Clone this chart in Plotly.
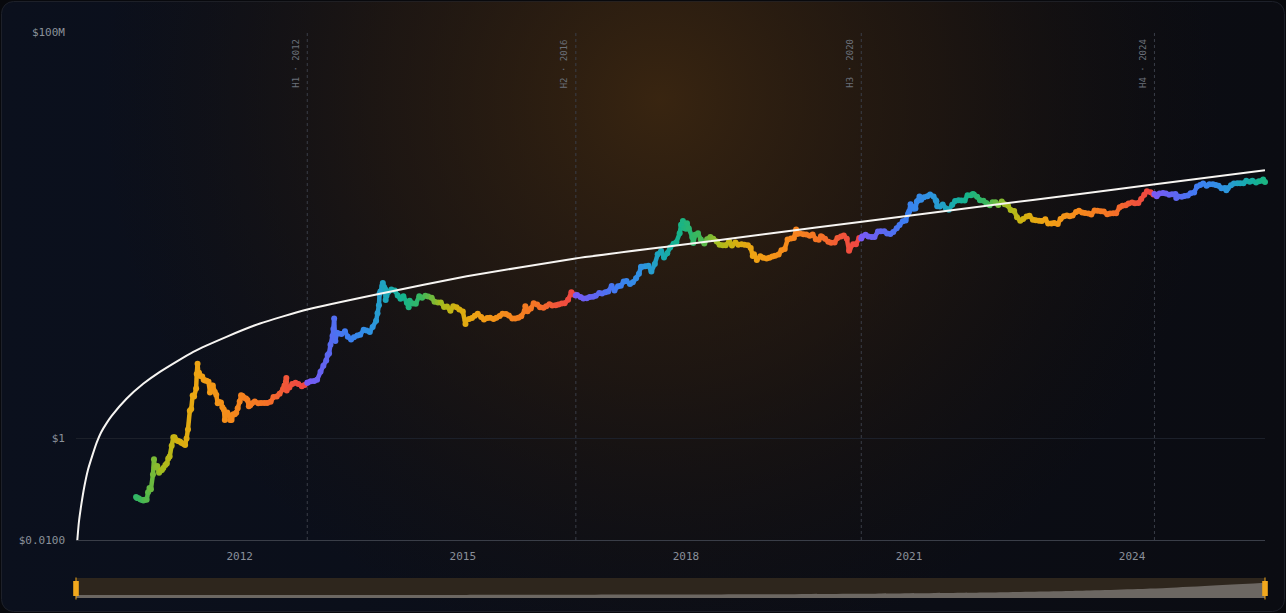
import base64
import numpy as np
import pandas as pd
import plotly.graph_objects as go
from plotly.colors import sample_colorscale

# ---------------- data ----------------
price_dates = [
    "2010-08-10", "2010-08-15", "2010-08-22", "2010-09-01", "2010-09-10", "2010-09-15", "2010-09-22",
    "2010-10-01", "2010-10-08", "2010-10-15", "2010-10-22", "2010-11-01", "2010-11-06", "2010-11-10",
    "2010-11-15", "2010-11-22", "2010-12-01", "2010-12-08", "2010-12-15", "2010-12-22",
    "2011-01-01", "2011-01-08", "2011-01-15", "2011-01-22", "2011-02-01", "2011-02-09", "2011-02-15",
    "2011-02-22", "2011-03-01", "2011-03-08", "2011-03-15", "2011-03-22", "2011-04-01", "2011-04-08",
    "2011-04-15", "2011-04-22", "2011-05-01", "2011-05-08", "2011-05-15", "2011-05-22", "2011-06-01",
    "2011-06-04", "2011-06-08", "2011-06-12", "2011-06-15", "2011-06-22", "2011-07-01", "2011-07-08",
    "2011-07-15", "2011-07-22", "2011-08-01", "2011-08-08", "2011-08-15", "2011-08-22", "2011-09-01",
    "2011-09-08", "2011-09-15", "2011-09-22", "2011-10-01", "2011-10-08", "2011-10-15", "2011-10-20",
    "2011-10-22", "2011-11-01", "2011-11-08", "2011-11-15", "2011-11-22", "2011-12-01", "2011-12-08",
    "2011-12-15", "2011-12-22",
    "2012-01-01", "2012-01-08", "2012-01-15", "2012-01-22", "2012-02-01", "2012-02-08", "2012-02-15",
    "2012-02-22", "2012-03-01", "2012-03-15", "2012-04-01", "2012-04-15", "2012-05-01", "2012-05-15",
    "2012-06-01", "2012-06-15", "2012-07-01", "2012-07-15", "2012-08-01", "2012-08-08", "2012-08-15",
    "2012-08-17", "2012-08-19", "2012-08-22", "2012-09-01", "2012-09-15", "2012-10-01", "2012-10-15",
    "2012-11-01", "2012-11-15", "2012-11-28", "2012-12-01", "2012-12-15",
    "2013-01-01", "2013-01-15", "2013-02-01", "2013-02-15", "2013-03-01", "2013-03-08", "2013-03-15",
    "2013-03-22", "2013-04-01", "2013-04-05", "2013-04-09", "2013-04-12", "2013-04-15", "2013-04-22",
    "2013-05-01", "2013-05-15", "2013-06-01", "2013-06-15", "2013-07-01", "2013-07-15", "2013-08-01",
    "2013-08-15", "2013-09-01", "2013-09-15", "2013-10-01", "2013-10-15", "2013-11-01", "2013-11-08",
    "2013-11-15", "2013-11-18", "2013-11-22", "2013-12-01", "2013-12-04", "2013-12-10", "2013-12-15",
    "2013-12-18", "2013-12-22",
    "2014-01-01", "2014-01-15", "2014-02-01", "2014-02-15", "2014-03-01", "2014-03-15", "2014-04-01",
    "2014-04-10", "2014-04-15", "2014-05-01", "2014-05-15", "2014-06-01", "2014-06-15", "2014-07-01",
    "2014-07-15", "2014-08-01", "2014-08-15", "2014-09-01", "2014-09-15", "2014-10-01", "2014-10-15",
    "2014-11-01", "2014-11-15", "2014-12-01", "2014-12-15",
    "2015-01-01", "2015-01-14", "2015-01-15", "2015-02-01", "2015-02-15", "2015-03-01", "2015-03-15",
    "2015-04-01", "2015-04-15", "2015-05-01", "2015-05-15", "2015-06-01", "2015-06-15", "2015-07-01",
    "2015-07-15", "2015-08-01", "2015-08-15", "2015-09-01", "2015-09-15", "2015-10-01", "2015-10-15",
    "2015-11-01", "2015-11-04", "2015-11-15", "2015-12-01", "2015-12-15",
    "2016-01-01", "2016-01-15", "2016-02-01", "2016-02-15", "2016-03-01", "2016-03-15", "2016-04-01",
    "2016-04-15", "2016-05-01", "2016-05-15", "2016-06-01", "2016-06-17", "2016-07-01", "2016-07-09",
    "2016-07-15", "2016-08-01", "2016-08-15", "2016-09-01", "2016-09-15", "2016-10-01", "2016-10-15",
    "2016-11-01", "2016-11-15", "2016-12-01", "2016-12-15",
    "2017-01-01", "2017-01-15", "2017-02-01", "2017-02-15", "2017-03-01", "2017-03-15", "2017-04-01",
    "2017-04-15", "2017-05-01", "2017-05-15", "2017-05-25", "2017-06-01", "2017-06-15", "2017-07-01",
    "2017-07-15", "2017-08-01", "2017-08-15", "2017-09-01", "2017-09-15", "2017-10-01", "2017-10-15",
    "2017-11-01", "2017-11-15", "2017-12-01", "2017-12-08", "2017-12-17", "2017-12-22",
    "2018-01-01", "2018-01-06", "2018-01-15", "2018-02-01", "2018-02-06", "2018-02-15", "2018-03-01",
    "2018-03-15", "2018-04-01", "2018-04-15", "2018-05-01", "2018-05-15", "2018-06-01", "2018-06-15",
    "2018-07-01", "2018-07-15", "2018-08-01", "2018-08-15", "2018-09-01", "2018-09-15", "2018-10-01",
    "2018-10-15", "2018-11-01", "2018-11-15", "2018-11-25", "2018-12-01", "2018-12-15",
    "2019-01-01", "2019-01-15", "2019-02-01", "2019-02-15", "2019-03-01", "2019-03-15", "2019-04-01",
    "2019-04-15", "2019-05-01", "2019-05-15", "2019-06-01", "2019-06-15", "2019-06-26", "2019-07-01",
    "2019-07-15", "2019-08-01", "2019-08-15", "2019-09-01", "2019-09-15", "2019-10-01", "2019-10-15",
    "2019-10-26", "2019-11-01", "2019-11-15", "2019-12-01", "2019-12-15",
    "2020-01-01", "2020-01-15", "2020-02-01", "2020-02-15", "2020-03-01", "2020-03-12", "2020-03-15",
    "2020-04-01", "2020-04-15", "2020-05-01", "2020-05-11", "2020-05-15", "2020-06-01", "2020-06-15",
    "2020-07-01", "2020-07-15", "2020-08-01", "2020-08-15", "2020-09-01", "2020-09-15", "2020-10-01",
    "2020-10-15", "2020-11-01", "2020-11-15", "2020-12-01", "2020-12-15", "2020-12-27",
    "2021-01-01", "2021-01-08", "2021-01-15", "2021-01-22", "2021-02-01", "2021-02-08", "2021-02-15",
    "2021-02-21", "2021-03-01", "2021-03-15", "2021-04-01", "2021-04-14", "2021-05-01", "2021-05-12",
    "2021-05-15", "2021-05-19", "2021-06-01", "2021-06-15", "2021-07-01", "2021-07-15", "2021-08-01",
    "2021-08-15", "2021-09-01", "2021-09-15", "2021-10-01", "2021-10-15", "2021-11-01", "2021-11-10",
    "2021-11-15", "2021-12-01", "2021-12-15",
    "2022-01-01", "2022-01-15", "2022-02-01", "2022-02-15", "2022-03-01", "2022-03-15", "2022-04-01",
    "2022-04-15", "2022-05-01", "2022-05-15", "2022-06-01", "2022-06-15", "2022-07-01", "2022-07-15",
    "2022-08-01", "2022-08-15", "2022-09-01", "2022-09-15", "2022-10-01", "2022-10-15", "2022-11-01",
    "2022-11-15", "2022-12-01", "2022-12-15",
    "2023-01-01", "2023-01-15", "2023-02-01", "2023-02-15", "2023-03-01", "2023-03-15", "2023-04-01",
    "2023-04-15", "2023-05-01", "2023-05-15", "2023-06-01", "2023-06-15", "2023-07-01", "2023-07-15",
    "2023-08-01", "2023-08-15", "2023-09-01", "2023-09-15", "2023-10-01", "2023-10-15", "2023-11-01",
    "2023-11-15", "2023-12-01", "2023-12-15",
    "2024-01-01", "2024-01-15", "2024-02-01", "2024-02-15", "2024-03-01", "2024-03-14", "2024-04-01",
    "2024-04-15", "2024-04-20", "2024-05-01", "2024-05-15", "2024-06-01", "2024-06-15", "2024-07-01",
    "2024-07-15", "2024-08-01", "2024-08-05", "2024-08-15", "2024-09-01", "2024-09-15", "2024-10-01",
    "2024-10-15", "2024-11-01", "2024-11-15", "2024-12-01", "2024-12-15",
    "2025-01-01", "2025-01-15", "2025-02-01", "2025-02-15", "2025-03-01", "2025-03-15", "2025-04-01",
    "2025-04-08", "2025-04-15", "2025-05-01", "2025-05-15", "2025-06-01", "2025-06-15", "2025-07-01",
    "2025-07-15", "2025-08-01", "2025-08-14", "2025-09-01", "2025-09-15", "2025-10-01", "2025-10-06",
    "2025-10-15",
]
price_values = [
    0.070, 0.067, 0.066, 0.063, 0.061, 0.060, 0.062,
    0.062, 0.087, 0.105, 0.100, 0.195, 0.390, 0.270,
    0.270, 0.285, 0.210, 0.230, 0.240, 0.260,
    0.30, 0.32, 0.40, 0.44, 0.72, 1.05, 1.05,
    0.93, 0.90, 0.88, 0.86, 0.81, 0.78, 0.74,
    1.00, 1.50, 3.50, 3.80, 7.00, 6.70, 9.60,
    18.5, 29.6, 19.0, 19.5, 17.0, 16.5, 14.3,
    13.8, 13.6, 13.1, 8.0, 11.0, 11.0, 8.2,
    7.2, 4.9, 5.2, 5.1, 4.1, 3.7, 2.3,
    3.2, 3.25, 2.9, 2.3, 2.3, 3.0, 3.0,
    3.2, 3.9,
    5.3, 7.1, 6.8, 6.3, 6.1, 5.7, 4.3,
    4.5, 4.9, 5.3, 4.9, 4.95, 5.0, 5.0,
    5.25, 6.5, 6.7, 7.6, 9.4, 11.0, 13.2,
    15.4, 8.8, 10.2, 10.1, 11.8, 12.4, 11.8,
    10.6, 11.2, 12.4, 12.6, 13.4,
    13.5, 14.2, 20.4, 27.0, 34.0, 44.0, 47.0,
    70.0, 104, 142, 230, 117, 83, 120,
    116, 114, 129, 100, 88, 98, 106,
    110, 138, 133, 125, 156, 206, 290,
    420, 700, 780, 1000, 1150, 960, 870,
    530, 640,
    770, 850, 820, 650, 560, 630, 470,
    380, 510, 450, 445, 630, 590, 640,
    620, 590, 490, 475, 475, 385, 395,
    325, 400, 380, 345,
    315, 178, 210, 225, 235, 260, 285,
    245, 220, 235, 237, 223, 236, 258,
    285, 280, 262, 228, 230, 237, 255,
    325, 400, 320, 360, 455,
    434, 380, 372, 400, 435, 415, 417,
    430, 450, 455, 535, 750, 675, 650,
    665, 605, 570, 575, 610, 615, 640,
    730, 710, 755, 780,
    1000, 820, 985, 1010, 1220, 1250, 1090,
    1180, 1420, 1740, 2400, 2400, 2450, 2500,
    1920, 2720, 4200, 4900, 3640, 4400, 5700,
    6750, 7300, 10900, 16000, 19100, 13800,
    13400, 17100, 13600, 9100, 7000, 10200, 10900,
    8200, 6850, 8350, 9250, 8500, 7500, 6450,
    6350, 6350, 7600, 6300, 7200, 6500, 6600,
    6450, 6350, 5600, 3900, 4200, 3250,
    3850, 3580, 3480, 3610, 3820, 3930, 4150,
    5050, 5350, 8200, 8570, 8850, 12900, 10600,
    10850, 10400, 10300, 9750, 10300, 8300, 8150,
    9550, 9250, 8500, 7400, 7100,
    7200, 8800, 9400, 9900, 8550, 4970, 5400,
    6650, 6650, 8800, 8600, 9400, 10200, 9450,
    9230, 9200, 11800, 11900, 11950, 10800, 10600,
    11500, 13750, 15950, 18800, 19400, 26500,
    29400, 40800, 36800, 33000, 33500, 46200, 48700,
    57500, 49600, 55900, 58700, 63500, 57800, 49000,
    46800, 37000, 36700, 40200, 33500, 31800, 39900,
    47000, 48800, 48100, 48200, 61500, 61000, 65000,
    63600, 57200, 48900,
    47700, 43100, 38700, 44500, 44400, 39300, 46300,
    40500, 38500, 31300, 29800, 22600, 19300, 20800,
    23300, 24100, 20100, 19700, 19300, 19100, 20500,
    16900, 17000, 17400,
    16600, 20900, 23700, 24300, 23600, 24400, 28500,
    30300, 28000, 27200, 26800, 25600, 30600, 30300,
    29700, 29200, 25900, 26600, 27000, 27100, 35400,
    37900, 38700, 41900,
    44200, 42500, 43100, 51800, 62400, 73100, 69700,
    63400, 64900, 58300, 66200, 67800, 66200, 62700,
    64100, 65000, 54000, 57600, 57300, 59100, 60800,
    67000, 69500, 91000, 97200, 104000,
    94400, 100500, 100600, 97600, 94200, 84300, 85200,
    76300, 83600, 96500, 103700, 105600, 105500, 105700,
    117800, 113300, 118400, 109200, 115400, 118600, 124700,
    111000,
]

# white model curve
model_dates = [
    "2009-10-25", "2009-11-02", "2009-11-15", "2009-11-29", "2009-12-16", "2010-01-06",
    "2010-01-29", "2010-02-19", "2010-03-16", "2010-04-12", "2010-06-24", "2010-09-14",
    "2010-12-05", "2011-05-18", "2011-10-28", "2012-04-10", "2012-11-28", "2013-11-20",
    "2015-01-20", "2016-07-07", "2017-10-15", "2019-02-17", "2020-05-14", "2022-01-17",
    "2023-04-20", "2024-04-14", "2025-10-15",
]
model_values = [
    0.0095, 0.0221, 0.0524, 0.113, 0.234, 0.442,
    0.834, 1.31, 1.93, 2.77, 6.03, 11.86,
    20.4, 50.6, 100, 183, 345, 706,
    1549, 3490, 6040, 10800, 18370, 37800,
    64900, 99300, 189000,
]

halving_dates = ["2012-11-28", "2016-07-09", "2020-05-11", "2024-04-20"]
halving_labels = ["H1 · 2012", "H2 · 2016", "H3 · 2020", "H4 · 2024"]
genesis_date = "2009-01-03"
next_halving_est = "2028-04-15"

x_tick_dates = ["2012-01-01", "2015-01-01", "2018-01-01", "2021-01-01", "2024-01-01"]
x_tick_labels = ["2012", "2015", "2018", "2021", "2024"]
y_tick_values = [0.01, 1, 1e8]
y_tick_labels = ["$0.0100", "$1", "$100M"]
x_range = ["2009-10-19", "2025-10-15"]

# ---------------- derived: position within halving cycle ----------------
d = pd.to_datetime(price_dates).values
bounds = pd.to_datetime([genesis_date] + halving_dates + [next_halving_est]).values
idx = np.searchsorted(bounds, d, side="right") - 1
phase = np.asarray((d - bounds[idx]) / (bounds[idx + 1] - bounds[idx]), dtype=float)

cycle_scale = [
    [0.00, "#7a5af5"], [0.08, "#5b68f0"], [0.15, "#3d7ef2"], [0.24, "#2e95e0"],
    [0.30, "#1aa8b5"], [0.36, "#15b38c"], [0.43, "#3cb75a"], [0.50, "#a5bc1e"],
    [0.56, "#d6b010"], [0.63, "#f0a214"], [0.74, "#f68a1c"], [0.86, "#f57226"],
    [0.93, "#f1553a"], [1.00, "#ef4444"],
]
seg_colors = sample_colorscale(cycle_scale, list(np.clip(phase, 0, 1)))

# ---------------- layout geometry ----------------
W, H = 1286, 613
L, R, T, B = 76, 1265, 32, 540
SL_T, SL_B = 578, 598

svg = f'''<svg xmlns="http://www.w3.org/2000/svg" width="{W}" height="{H}" viewBox="0 0 {W} {H}">
<defs>
<linearGradient id="base" x1="0" y1="0" x2="1" y2="0">
<stop offset="0" stop-color="#0b101d"/><stop offset="1" stop-color="#0b0c12"/>
</linearGradient>
<radialGradient id="glow" cx="660" cy="100" r="560" gradientUnits="userSpaceOnUse">
<stop offset="0" stop-color="#3b2610" stop-opacity="0.95"/>
<stop offset="0.5" stop-color="#2c1c0d" stop-opacity="0.55"/>
<stop offset="1" stop-color="#1a120a" stop-opacity="0"/>
</radialGradient>
</defs>
<rect x="0" y="0" width="{W}" height="{H}" fill="#08090d"/>
<rect x="1.5" y="1.5" width="{W-3}" height="{H-3}" rx="12" fill="url(#base)" stroke="#1d2029"/>
<rect x="1.5" y="1.5" width="{W-3}" height="{H-3}" rx="12" fill="url(#glow)"/>
</svg>'''
bg_src = "data:image/svg+xml;base64," + base64.b64encode(svg.encode()).decode()


def px(xp):
    return xp / W


def py(yp):
    return 1 - yp / H


mono = "DejaVu Sans Mono"
tick_col = "#8a909a"

fig = go.Figure()

# connecting segments so the band of closes reads as continuous
for i in range(len(price_dates) - 1):
    fig.add_trace(go.Scatter(
        x=price_dates[i:i + 2], y=price_values[i:i + 2], mode="lines",
        line=dict(color=seg_colors[i], width=4.5),
        hoverinfo="skip", showlegend=False,
    ))
fig.add_trace(go.Scatter(
    x=price_dates, y=price_values, mode="markers",
    marker=dict(size=6, color=phase, colorscale=cycle_scale, cmin=0, cmax=1,
                line=dict(width=0), showscale=False),
    cliponaxis=False, hoverinfo="skip", showlegend=False,
))
fig.add_trace(go.Scatter(
    x=model_dates, y=model_values, mode="lines",
    line=dict(color="#f7f5f2", width=2, shape="spline", smoothing=0.5),
    hoverinfo="skip", showlegend=False,
))
# mini overview (slider) uses the model curve on a linear scale
fig.add_trace(go.Scatter(
    x=model_dates, y=model_values, mode="lines", xaxis="x2", yaxis="y2",
    line=dict(width=0, shape="spline", smoothing=0.5), fill="tozeroy",
    fillcolor="#6c6762", hoverinfo="skip", showlegend=False,
))

shapes = []
for hd in halving_dates:
    shapes.append(dict(type="line", xref="x", yref="y domain", x0=hd, x1=hd, y0=0, y1=1,
                       line=dict(color="#3a3e48", width=1, dash="3px,3px"), layer="below"))
# slider background + baseline + handles
shapes.append(dict(type="rect", xref="paper", yref="paper", x0=px(L), x1=px(R),
                   y0=py(SL_B), y1=py(SL_T), fillcolor="#2e261d", line=dict(width=0), layer="below"))
shapes.append(dict(type="rect", xref="paper", yref="paper", x0=px(L), x1=px(R),
                   y0=py(SL_B), y1=py(SL_B - 3), fillcolor="#6c6762", line=dict(width=0), layer="below"))
for hx in (L, R):
    shapes.append(dict(type="line", xref="paper", yref="paper", x0=px(hx), x1=px(hx),
                       y0=py(SL_B + 1.5), y1=py(SL_T - 0.5), line=dict(color="#f2a81d", width=1)))
    shapes.append(dict(type="rect", xref="paper", yref="paper", x0=px(hx - 2.8), x1=px(hx + 2.8),
                       y0=py(596), y1=py(581), fillcolor="#f2a81d", line=dict(width=0)))

annotations = []
for hd, lab in zip(halving_dates, halving_labels):
    annotations.append(dict(x=hd, xref="x", y=py(37), yref="paper", text=lab, showarrow=False,
                            textangle=-90, xanchor="right", yanchor="top", xshift=-4,
                            font=dict(family=mono, size=9, color="#6b707a")))

fig.update_layout(
    width=W, height=H,
    margin=dict(l=0, r=0, t=0, b=0),
    paper_bgcolor="#08090d", plot_bgcolor="rgba(0,0,0,0)",
    images=[dict(source=bg_src, xref="paper", yref="paper", x=0, y=1, sizex=1, sizey=1,
                 xanchor="left", yanchor="top", sizing="stretch", layer="below")],
    xaxis=dict(domain=[px(L), px(R)], range=x_range, type="date",
               tickvals=x_tick_dates, ticktext=x_tick_labels, ticks="",
               showgrid=False, zeroline=False, showline=True, linecolor="#3a3e48", linewidth=1,
               tickfont=dict(family=mono, size=11, color=tick_col), ticklabelstandoff=6,
               automargin=False, fixedrange=True),
    yaxis=dict(domain=[py(B), py(T)], type="log", range=[-2, 8],
               tickvals=y_tick_values, ticktext=y_tick_labels, ticks="",
               showgrid=True, gridcolor="#1c202a", gridwidth=1, zeroline=False, showline=False,
               tickfont=dict(family=mono, size=11, color=tick_col), ticklabelstandoff=10,
               automargin=False, fixedrange=True),
    xaxis2=dict(domain=[px(L), px(R)], range=x_range, type="date", anchor="y2", visible=False),
    yaxis2=dict(domain=[py(SL_B), py(SL_T)], range=[-46000, 261500], anchor="x2", visible=False),
    shapes=shapes, annotations=annotations,
    showlegend=False, hovermode=False,
)

fig.write_html("out.html")
